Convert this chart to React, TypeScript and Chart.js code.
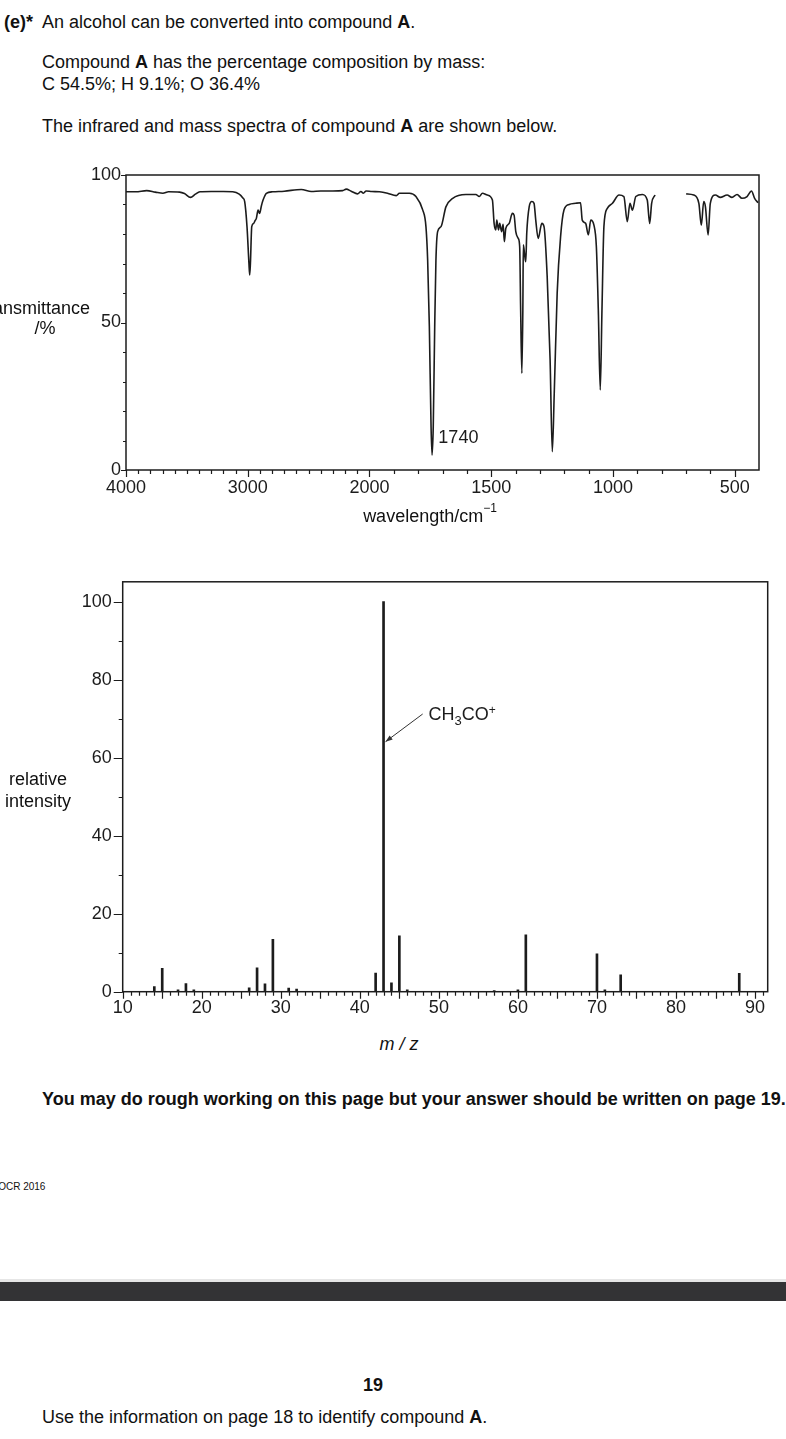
import React, { useEffect, useRef } from 'react';
import { Chart, registerables } from 'chart.js';

Chart.register(...registerables);

// ---------- IR spectrum data (wavenumber / cm-1, transmittance / %) ----------
const irWavenumbers = [
  4000, 3920, 3830, 3760, 3697, 3650, 3560, 3520, 3470, 3430, 3393, 3300, 3200, 3123, 3070, 3040,
  3025, 3006, 2990, 2984, 2978, 2967, 2951, 2940, 2929, 2915, 2902, 2888, 2874, 2847, 2795, 2700,
  2560, 2478, 2400, 2300, 2220, 2191, 2150, 2098, 2070, 2050, 2027, 1990, 1959, 1926, 1890, 1877,
  1836, 1809, 1781, 1768, 1761, 1754, 1747, 1743, 1738, 1732, 1727, 1720, 1706, 1686, 1658, 1604,
  1563, 1549, 1536, 1516, 1495, 1488, 1481, 1477, 1470, 1465, 1457, 1451, 1446, 1440, 1426, 1413,
  1406, 1399, 1389, 1383, 1379, 1374, 1370, 1368, 1362, 1358, 1354, 1344, 1333, 1324, 1317, 1307,
  1292, 1283, 1270, 1258, 1249, 1241, 1229, 1215, 1201, 1180, 1153, 1133, 1126, 1112, 1101, 1091,
  1078, 1068, 1060, 1052, 1045, 1037, 1023, 1002, 975, 955, 941, 930, 920, 906, 879, 859, 849, 841,
  827, 760, 699, 668, 647, 637, 627, 620, 609, 600, 579, 559, 531, 511, 490, 470, 449, 431, 418, 404,
];
const irTransmittance = [
  94.3, 94.3, 94.7, 94.2, 93.8, 94.3, 94.2, 93.7, 92.4, 93.5, 94.3, 94.4, 94.4, 94.3, 93.5, 92.2,
  91.0, 82.5, 70.0, 66.1, 70.0, 82.5, 83.6, 84.5, 85.3, 88.1, 87.0, 89.5, 91.5, 93.8, 94.3, 94.5,
  95.1, 94.4, 94.6, 94.6, 94.7, 95.2, 94.5, 93.6, 94.4, 93.8, 94.6, 94.4, 94.3, 93.8, 93.0, 93.8,
  93.8, 92.7, 88.1, 82.5, 71.2, 48.6, 14.7, 5.1, 14.7, 48.6, 71.0, 80.8, 82.5, 89.2, 92.1, 93.4,
  93.4, 92.7, 93.8, 93.2, 91.5, 83.6, 81.4, 84.7, 81.4, 83.6, 80.8, 83.3, 77.4, 81.9, 83.6, 87.0,
  86.4, 80.8, 78.5, 75.7, 54.2, 32.8, 54.2, 76.3, 72.5, 70.6, 80.2, 89.2, 91.0, 90.4, 84.7, 78.5,
  83.6, 82.5, 65.5, 37.3, 6.2, 26.0, 59.9, 79.1, 88.1, 90.0, 90.4, 90.6, 84.7, 83.6, 79.7, 84.7,
  83.0, 75.7, 54.2, 27.1, 54.2, 82.5, 88.7, 90.4, 93.2, 92.7, 84.2, 90.4, 88.1, 92.7, 93.4, 91.5, 83.6, 90.4,
  93.2, null, 93.6, 93.2, 90.4, 83.0, 91.0, 89.2, 79.7, 90.4, 93.2, 92.4, 93.2, 92.4, 93.4, 92.1, 92.7, 94.6, 92.1, 90.6,
];
const irXTickValues = [
  4000, 3900, 3800, 3700, 3600, 3500, 3400, 3300, 3200, 3100, 3000, 2900, 2800, 2700, 2600, 2500,
  2400, 2300, 2200, 2100, 2000, 1900, 1800, 1700, 1600, 1500, 1400, 1300, 1200, 1100, 1000, 900,
  800, 700, 600, 500,
];
const irXLabels = [4000, 3000, 2000, 1500, 1000, 500];
const irYTickValues = [0, 10, 20, 30, 40, 50, 60, 70, 80, 90, 100];
const irYLabels = [0, 50, 100];

// ---------- Mass spectrum data (m/z, relative intensity) ----------
const msMz = [14, 15, 17, 18, 19, 26, 27, 28, 29, 31, 32, 42, 43, 44, 45, 46, 57, 60, 61, 70, 71, 73, 88];
const msIntensity = [1.3, 6.0, 0.5, 2.1, 0.5, 1.0, 6.1, 2.0, 13.4, 0.9, 0.7, 4.8, 100, 2.3, 14.3, 0.5, 0.3, 0.5, 14.6, 9.7, 0.5, 4.3, 4.7];
const msXTickValues = Array.from({ length: 82 }, (_, i) => 10 + i);
const msXLabels = [10, 20, 30, 40, 50, 60, 70, 80, 90];
const msYTickValues = [0, 10, 20, 30, 40, 50, 60, 70, 80, 90, 100];
const msYLabels = [0, 20, 40, 60, 80, 100];

const FONT = '"Liberation Sans", Arial, Helvetica, sans-serif';
const INK = '#1c1c1c';

// the IR wavenumber axis is compressed above 2000 cm-1 (1000 per unit) and expanded below (500 per unit)
function irPos(wn: number): number {
  return wn >= 2000 ? (4000 - wn) / 1000 : 2 + (2000 - wn) / 500;
}
function irWn(p: number): number {
  return p <= 2 ? 4000 - p * 1000 : 2000 - (p - 2) * 500;
}

type TickCfg = {
  xMajor: (v: number) => boolean;
  yMajor: (v: number) => boolean;
  xMajorLen: number;
  xMinorLen: number;
  yMajorLen: number;
  yMinorLen: number;
};

function framePlugin(cfg: TickCfg) {
  return {
    id: 'frameAndTicks',
    afterDraw(chart: any) {
      const ctx = chart.ctx as CanvasRenderingContext2D;
      const { left, top, right, bottom } = chart.chartArea;
      ctx.save();
      ctx.strokeStyle = INK;
      ctx.lineWidth = 1.5;
      ctx.strokeRect(left, top, right - left, bottom - top);
      ctx.lineWidth = 1.2;
      const xs = chart.scales.x;
      const ys = chart.scales.y;
      ctx.beginPath();
      xs.ticks.forEach((t: any) => {
        const px = Math.round(xs.getPixelForValue(t.value)) + 0.5;
        const len = cfg.xMajor(t.value) ? cfg.xMajorLen : cfg.xMinorLen;
        ctx.moveTo(px, bottom);
        ctx.lineTo(px, bottom + len);
      });
      ys.ticks.forEach((t: any) => {
        const py = Math.round(ys.getPixelForValue(t.value)) + 0.5;
        const len = cfg.yMajor(t.value) ? cfg.yMajorLen : cfg.yMinorLen;
        ctx.moveTo(left, py);
        ctx.lineTo(left - len, py);
      });
      ctx.stroke();
      ctx.restore();
    },
  };
}

const irAnnotation = {
  id: 'irAnnotation',
  afterDatasetsDraw(chart: any) {
    const ctx = chart.ctx as CanvasRenderingContext2D;
    const xs = chart.scales.x;
    const ys = chart.scales.y;
    ctx.save();
    ctx.fillStyle = INK;
    ctx.font = `18px ${FONT}`;
    ctx.textAlign = 'left';
    ctx.textBaseline = 'middle';
    ctx.fillText('1740', xs.getPixelForValue(irPos(1717)), ys.getPixelForValue(10.9));
    ctx.restore();
  },
};

const msAnnotation = {
  id: 'msAnnotation',
  afterDatasetsDraw(chart: any) {
    const ctx = chart.ctx as CanvasRenderingContext2D;
    const xs = chart.scales.x;
    const ys = chart.scales.y;
    const x1 = xs.getPixelForValue(47.95);
    const y1 = ys.getPixelForValue(71.2);
    const x2 = xs.getPixelForValue(43.25);
    const y2 = ys.getPixelForValue(64.1);
    ctx.save();
    ctx.strokeStyle = '#333';
    ctx.fillStyle = '#333';
    ctx.lineWidth = 1;
    ctx.beginPath();
    ctx.moveTo(x1, y1);
    ctx.lineTo(x2, y2);
    ctx.stroke();
    const ang = Math.atan2(y2 - y1, x2 - x1);
    const L = 7;
    const W = 2.6;
    ctx.beginPath();
    ctx.moveTo(x2, y2);
    ctx.lineTo(x2 - L * Math.cos(ang) + W * Math.sin(ang), y2 - L * Math.sin(ang) - W * Math.cos(ang));
    ctx.lineTo(x2 - L * Math.cos(ang) - W * Math.sin(ang), y2 - L * Math.sin(ang) + W * Math.cos(ang));
    ctx.closePath();
    ctx.fill();

    // CH3CO+ label
    ctx.fillStyle = INK;
    ctx.textAlign = 'left';
    ctx.textBaseline = 'alphabetic';
    let x = xs.getPixelForValue(48.7);
    const base = ys.getPixelForValue(69.7);
    ctx.font = `18px ${FONT}`;
    ctx.fillText('CH', x, base);
    x += ctx.measureText('CH').width;
    ctx.font = `13px ${FONT}`;
    ctx.fillText('3', x, base + 5);
    x += ctx.measureText('3').width;
    ctx.font = `18px ${FONT}`;
    ctx.fillText('CO', x, base);
    x += ctx.measureText('CO').width;
    ctx.font = `12px ${FONT}`;
    ctx.fillText('+', x, base - 6);
    ctx.restore();
  },
};

function near(list: number[], v: number): boolean {
  return list.some((l) => Math.abs(l - v) < 1e-6);
}

function IRChart() {
  const ref = useRef<HTMLCanvasElement | null>(null);
  useEffect(() => {
    if (!ref.current) return;
    const chart = new Chart(ref.current, {
      type: 'line',
      data: {
        datasets: [
          {
            data: irWavenumbers.map((w, i) => ({ x: irPos(w), y: irTransmittance[i] as any })),
            borderColor: INK,
            borderWidth: 1.6,
            pointRadius: 0,
            fill: false,
            spanGaps: false,
            cubicInterpolationMode: 'monotone',
          },
        ],
      },
      options: {
        responsive: false,
        animation: false,
        events: [],
        layout: { padding: { left: 0, top: 25, right: 27, bottom: 0 } },
        plugins: { legend: { display: false }, tooltip: { enabled: false } },
        scales: {
          x: {
            type: 'linear',
            min: 0,
            max: irPos(400),
            grid: { display: false, drawTicks: false, tickLength: 0 },
            border: { display: false },
            afterBuildTicks: (s: any) => {
              s.ticks = irXTickValues.map((w) => ({ value: irPos(w) }));
            },
            afterFit: (s: any) => {
              s.height = 40;
            },
            ticks: {
              autoSkip: false,
              maxRotation: 0,
              minRotation: 0,
              padding: 7,
              color: INK,
              font: { family: FONT, size: 18 },
              callback: (v: any) => {
                const w = Math.round(irWn(Number(v)));
                return irXLabels.includes(w) ? String(w) : '';
              },
            },
          },
          y: {
            type: 'linear',
            min: 0,
            max: 100,
            grid: { display: false, drawTicks: false, tickLength: 0 },
            border: { display: false },
            afterBuildTicks: (s: any) => {
              s.ticks = irYTickValues.map((v) => ({ value: v }));
            },
            afterFit: (s: any) => {
              s.width = 126;
            },
            ticks: {
              autoSkip: false,
              padding: 5,
              color: INK,
              font: { family: FONT, size: 18 },
              callback: (v: any) => (near(irYLabels, Number(v)) ? String(v) : ''),
            },
          },
        },
      },
      plugins: [
        framePlugin({
          xMajor: (v) => irXLabels.some((w) => Math.abs(irPos(w) - v) < 1e-6),
          yMajor: (v) => near(irYLabels, v),
          xMajorLen: 7,
          xMinorLen: 4,
          yMajorLen: 5,
          yMinorLen: 3,
        }),
        irAnnotation,
      ],
    } as any);
    return () => chart.destroy();
  }, []);
  return (
    <canvas
      ref={ref}
      width={786}
      height={360}
      style={{ position: 'absolute', left: 0, top: 150, width: 786, height: 360 }}
    />
  );
}

function MSChart() {
  const ref = useRef<HTMLCanvasElement | null>(null);
  useEffect(() => {
    if (!ref.current) return;
    const chart = new Chart(ref.current, {
      type: 'bar',
      data: {
        datasets: [
          {
            data: msMz.map((m, i) => ({ x: m, y: msIntensity[i] })),
            backgroundColor: INK,
            borderWidth: 0,
            barThickness: 2,
            grouped: false,
          },
        ],
      },
      options: {
        responsive: false,
        animation: false,
        events: [],
        layout: { padding: { left: 0, top: 19.3, right: 18.3, bottom: 0 } },
        plugins: { legend: { display: false }, tooltip: { enabled: false } },
        scales: {
          x: {
            type: 'linear',
            min: 10,
            max: 91.6,
            offset: false,
            grid: { display: false, offset: false, drawTicks: false, tickLength: 0 },
            border: { display: false },
            afterBuildTicks: (s: any) => {
              s.ticks = msXTickValues.map((v) => ({ value: v }));
            },
            afterFit: (s: any) => {
              s.height = 38.3;
            },
            ticks: {
              autoSkip: false,
              maxRotation: 0,
              minRotation: 0,
              padding: 6,
              color: INK,
              font: { family: FONT, size: 18 },
              callback: (v: any) => (near(msXLabels, Number(v)) ? String(v) : ''),
            },
          },
          y: {
            type: 'linear',
            min: 0,
            max: 105.1,
            grid: { display: false, drawTicks: false, tickLength: 0 },
            border: { display: false },
            afterBuildTicks: (s: any) => {
              s.ticks = msYTickValues.map((v) => ({ value: v }));
            },
            afterFit: (s: any) => {
              s.width = 122.7;
            },
            ticks: {
              autoSkip: false,
              padding: 11,
              color: INK,
              font: { family: FONT, size: 18 },
              callback: (v: any) => (near(msYLabels, Number(v)) ? String(v) : ''),
            },
          },
        },
      },
      plugins: [
        framePlugin({
          xMajor: (v) => Math.abs(v % 5) < 1e-6,
          yMajor: (v) => near(msYLabels, v),
          xMajorLen: 7,
          xMinorLen: 4,
          yMajorLen: 9,
          yMinorLen: 4,
        }),
        msAnnotation,
      ],
    } as any);
    return () => chart.destroy();
  }, []);
  return (
    <canvas
      ref={ref}
      width={786}
      height={470}
      style={{ position: 'absolute', left: 0, top: 560, width: 786, height: 470 }}
    />
  );
}

function Txt(props: { x: number; y: number; center?: boolean; style?: React.CSSProperties; children: React.ReactNode }) {
  const { x, y, center, style, children } = props;
  return (
    <div
      style={{
        position: 'absolute',
        left: x,
        top: y - 11,
        lineHeight: '22px',
        fontSize: 18,
        whiteSpace: 'nowrap',
        transform: center ? 'translateX(-50%)' : undefined,
        ...style,
      }}
    >
      {children}
    </div>
  );
}

export default function App() {
  return (
    <div
      style={{
        position: 'absolute',
        left: 0,
        top: 0,
        width: 786,
        height: 1439,
        overflow: 'hidden',
        background: '#fff',
        color: '#111',
        fontFamily: FONT,
      }}
    >
      <Txt x={4} y={22} style={{ fontWeight: 'bold' }}>(e)*</Txt>
      <Txt x={42} y={22}>
        An alcohol can be converted into compound <b>A</b>.
      </Txt>
      <Txt x={42} y={62}>
        Compound <b>A</b> has the percentage composition by mass:
      </Txt>
      <Txt x={42} y={84}>C 54.5%; H 9.1%; O 36.4%</Txt>
      <Txt x={42} y={126}>
        The infrared and mass spectra of compound <b>A</b> are shown below.
      </Txt>

      <IRChart />
      <Txt x={90} y={308} style={{ transform: 'translateX(-100%)' }}>transmittance</Txt>
      <Txt x={45} y={328} center>/%</Txt>
      <Txt x={430} y={516} center>
        wavelength/cm<sup style={{ fontSize: 12, verticalAlign: 'top', lineHeight: '12px', position: 'relative', top: -3 }}>−1</sup>
      </Txt>

      <MSChart />
      <Txt x={38} y={779} center>relative</Txt>
      <Txt x={38} y={801} center>intensity</Txt>
      <Txt x={399} y={1044} center style={{ fontStyle: 'italic' }}>m / z</Txt>

      <Txt x={42} y={1099} style={{ fontWeight: 'bold' }}>
        You may do rough working on this page but your answer should be written on page 19.
      </Txt>
      <Txt x={-12} y={1187} style={{ fontSize: 10, lineHeight: '12px', top: 1181 }}>© OCR 2016</Txt>

      <div style={{ position: 'absolute', left: 0, top: 1279, width: 786, height: 3, background: '#e6e6e6' }} />
      <div style={{ position: 'absolute', left: 0, top: 1282, width: 786, height: 19, background: '#333335' }} />

      <Txt x={373} y={1385} center style={{ fontWeight: 'bold' }}>19</Txt>
      <Txt x={42} y={1417}>
        Use the information on page 18 to identify compound <b>A</b>.
      </Txt>
    </div>
  );
}
